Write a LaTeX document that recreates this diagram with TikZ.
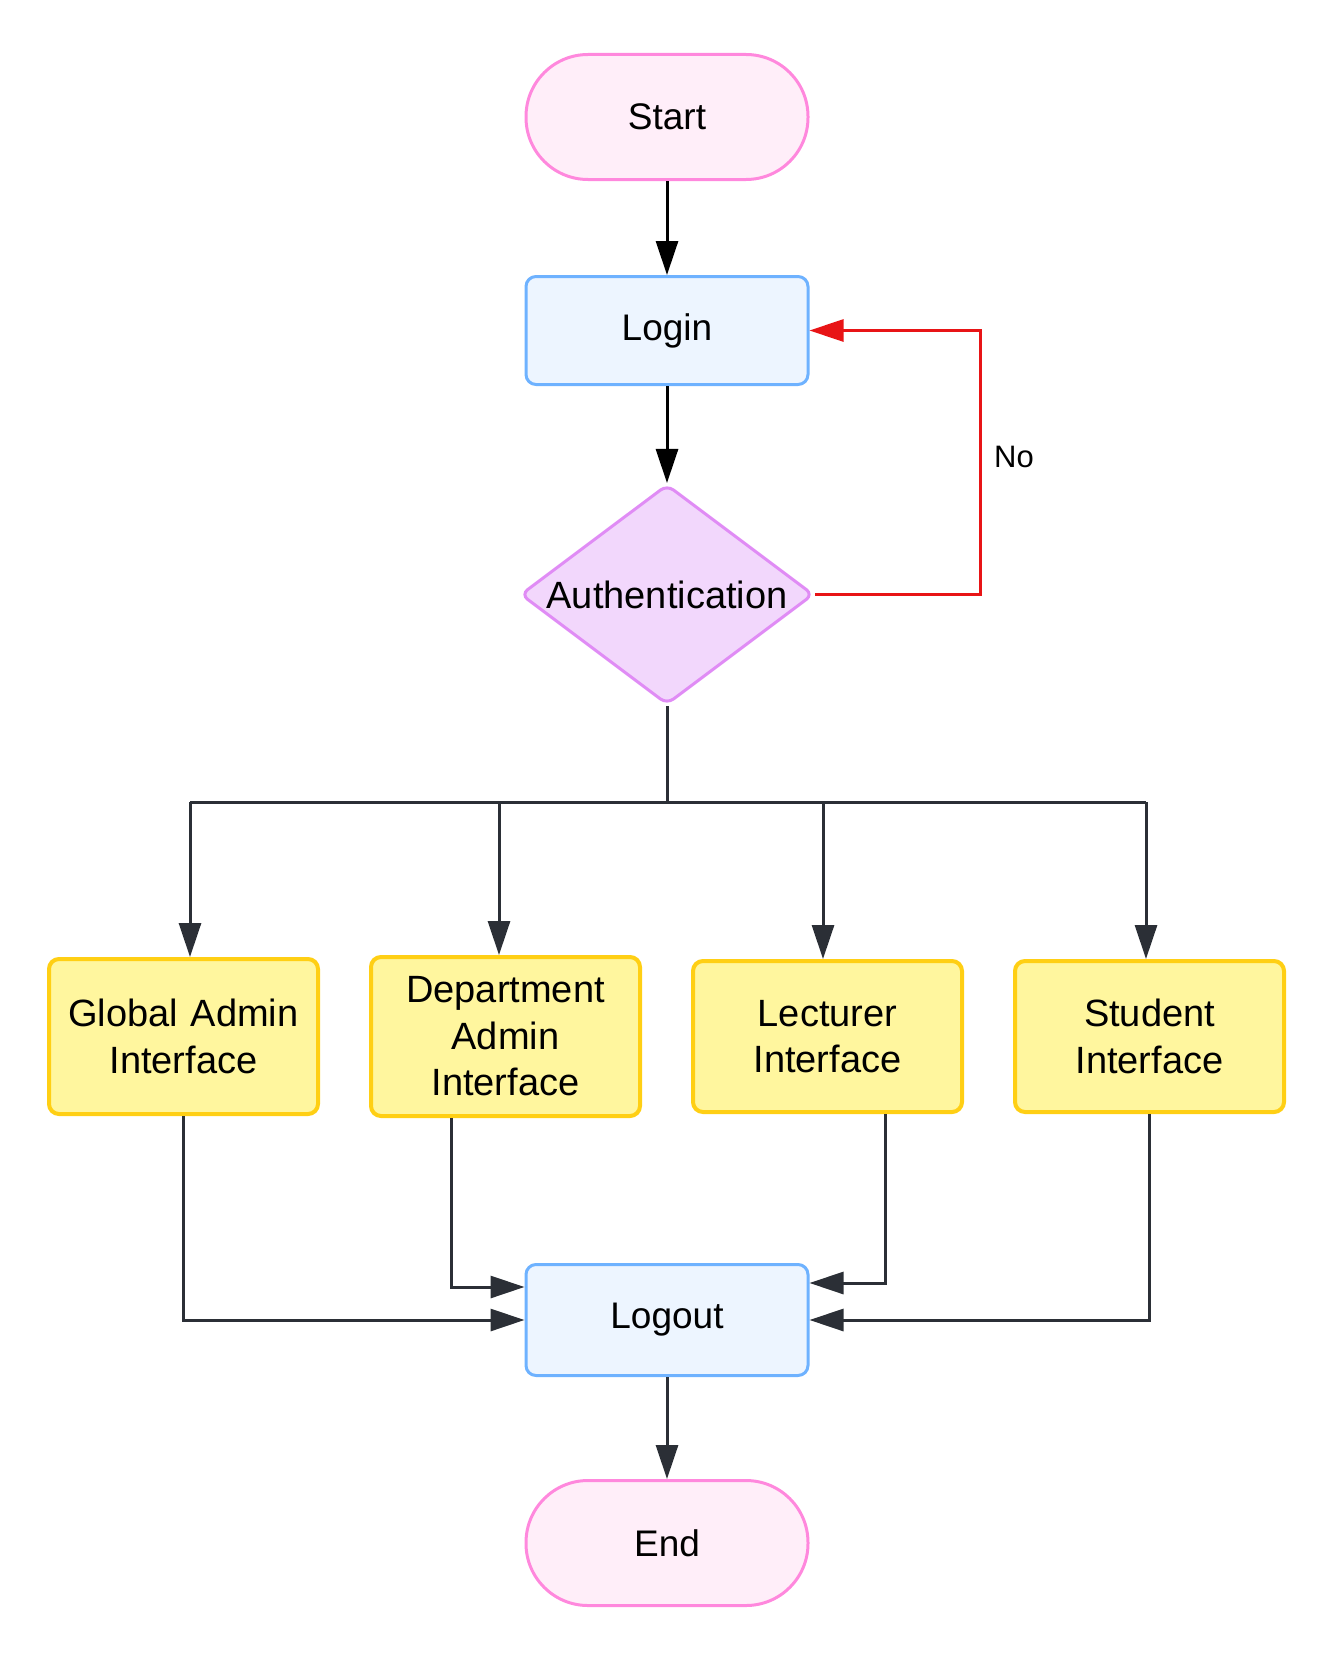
\documentclass[tikz,border=0pt]{standalone}
\usepackage{fontspec}
\setmainfont{Liberation Sans}
\usepackage{xcolor}
\usepackage{tikz}
\usetikzlibrary{positioning, arrows.meta, shapes.geometric}
\definecolor{termline}{RGB}{255, 136, 221}
\definecolor{termfill}{RGB}{255, 238, 249}
\definecolor{procline}{RGB}{110, 178, 255}
\definecolor{procfill}{RGB}{237, 245, 255}
\definecolor{decline}{RGB}{224, 140, 245}
\definecolor{decfill}{RGB}{242, 215, 252}
\definecolor{roleline}{RGB}{255, 207, 20}
\definecolor{rolefill}{RGB}{255, 246, 158}
\definecolor{darkline}{RGB}{43, 47, 54}
\definecolor{noline}{RGB}{232, 20, 22}

\begin{document}
\begin{tikzpicture}[
        x=0.5pt, y=-0.5pt,
        terminal/.style={rectangle, draw=termline, fill=termfill, line width=1.5pt, rounded corners=31pt, minimum width=141pt, minimum height=62.5pt, font=\fontsize{18.5}{22}\selectfont},
        process/.style={rectangle, draw=procline, fill=procfill, line width=1.5pt, rounded corners=5pt, minimum width=141pt, minimum height=54pt, font=\fontsize{18.5}{22}\selectfont},
        decision/.style={diamond, aspect=1.33, draw=decline, fill=decfill, line width=1.5pt, rounded corners=4pt, minimum width=146.5pt, minimum height=110pt, inner sep=0pt, font=\fontsize{19}{22}\selectfont},
        role/.style={rectangle, draw=roleline, fill=rolefill, line width=2pt, rounded corners=5pt, minimum width=134.5pt, text width=125pt, align=center, font=\fontsize{19}{23.3}\selectfont},
        arrow/.style={-{Triangle[length=17pt, width=11pt]}, line width=1.5pt, draw=darkline},
        line/.style={line width=1.5pt, draw=darkline}
    ]
        \useasboundingbox (0,0) rectangle (1339,1659);

        % Start and login
        \node[terminal] (start) at (667,117) {Start};
        \node[process, below=47pt of start] (login) {Login};

        % Check
        \node[decision, below=48.5pt of login] (auth) {Authentication};

        % Roles
        \node[role, minimum height=77.5pt] (global) at (183.5,1036.5) {Global Admin\\ Interface};
        \node[role, minimum height=79.5pt, right=24.5pt of global] (dept) {Department\\ Admin\\ Interface};
        \node[role, minimum height=75.5pt, right=24.5pt of dept] (lecturer) {Lecturer\\ Interface};
        \node[role, minimum height=75.5pt, right=24.5pt of lecturer] (student) {Student\\ Interface};

        % Logout and end
        \node[process, minimum height=55.5pt, below=278.5pt of auth] (logout) {Logout};
        \node[terminal, below=51pt of logout] (end) {End};

        % Arrows
        \draw[arrow, draw=black] (start) -- (login);
        \draw[arrow, draw=black] (login) -- (auth);
        \draw[arrow, draw=noline] (auth.east) -- ++(82.5pt,0) |- (login.east)
            node[pos=0.26, right=3pt, text=black, font=\fontsize{15.5}{18}\selectfont] {No};

        % Split to roles
        \coordinate (split) at ([yshift=-48pt]auth.south);
        \coordinate (global-in) at ([xshift=3.25pt]global.north);
        \coordinate (dept-in) at ([xshift=-3.25pt]dept.north);
        \coordinate (lecturer-in) at ([xshift=-2.25pt]lecturer.north);
        \coordinate (student-in) at ([xshift=-1.75pt]student.north);
        \draw[line] (auth.south) -- (split);
        \draw[line] (global-in |- split) -- (student-in |- split);
        \foreach \role in {global, dept, lecturer, student}
            \draw[arrow] (\role-in |- split) -- (\role-in);

        % Back to logout
        \coordinate (dept-out) at ([xshift=-27pt]dept.south);
        \coordinate (lecturer-out) at ([xshift=29pt]lecturer.south);
        \draw[arrow] (global.south) |- (logout.west);
        \draw[arrow] (dept-out) |- ([yshift=16.5pt]logout.west);
        \draw[arrow] (lecturer-out) |- ([yshift=18.5pt]logout.east);
        \draw[arrow] (student.south) |- (logout.east);
        \draw[arrow] (logout) -- (end);
    \end{tikzpicture}
\end{document}
